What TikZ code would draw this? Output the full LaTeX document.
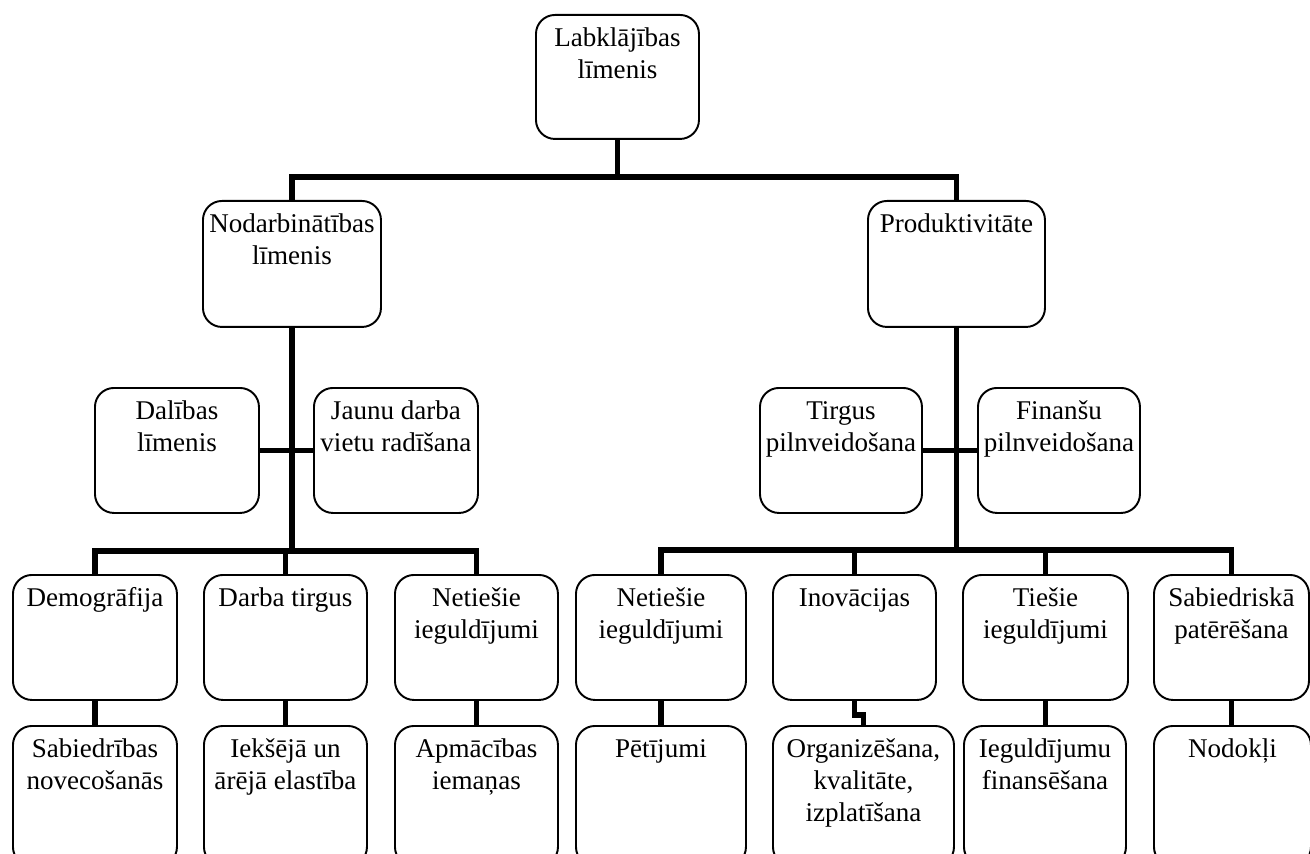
\documentclass[tikz,border=0pt]{standalone}
\usepackage{fontspec}
\setmainfont{Liberation Serif}
\newlength\pxu
\setlength\pxu{0.02cm}
\newcommand{\boxtext}[3]{\parbox[c][#2\pxu][t]{#1\pxu}{\centering\rule{0pt}{0.63cm}#3}}
\tikzset{
  box/.style={draw, fill=white, line width=1.1pt, rounded corners=0.38cm, inner sep=0pt,
    anchor=north west, font=\fontsize{15.4pt}{18.2pt}\selectfont},
  conn/.style={line width=3.2pt},
}
\begin{document}
\begin{tikzpicture}[x=0.02cm, y=-0.02cm]
\useasboundingbox (0,0) rectangle (1310,854);
\clip (0,0) rectangle (1310,854);
% augšējie līmeņi
\node[box] (lab) at (535,14) {\boxtext{163}{124}{Labklājības\\līmenis}};
\node[box] (nod) at (202,200) {\boxtext{178}{126}{Nodarbinātības\\līmenis}};
\node[box] (prod) at (867,200) {\boxtext{177}{126}{Produktivitāte}};
\node[box] (dal) at (94,387) {\boxtext{164}{125}{Dalības\\līmenis}};
\node[box] (jau) at (313,387) {\boxtext{164}{125}{Jaunu darba\\vietu radīšana}};
\node[box] (tir) at (759,387) {\boxtext{162}{125}{Tirgus\\pilnveidošana}};
\node[box] (fin) at (977,387) {\boxtext{162}{125}{Finanšu\\pilnveidošana}};
% faktori
\node[box] (dem) at (12,574) {\boxtext{164}{125}{Demogrāfija}};
\node[box] (dar) at (203,574) {\boxtext{163}{125}{Darba tirgus}};
\node[box] (nei) at (394,574) {\boxtext{163}{125}{Netiešie\\ieguldījumi}};
\node[box] (netr) at (575,574) {\boxtext{170}{125}{Netiešie\\ieguldījumi}};
\node[box] (ino) at (772,574) {\boxtext{163}{125}{Inovācijas}};
\node[box] (ties) at (962,574) {\boxtext{165}{125}{Tiešie\\ieguldījumi}};
\node[box] (sab) at (1153,574) {\boxtext{155}{125}{Sabiedriskā\\patērēšana}};
\node[box] (nov) at (12,725) {\boxtext{164}{140}{Sabiedrības\\novecošanās}};
\node[box] (iek) at (203,725) {\boxtext{163}{140}{Iekšējā un\\ārējā elastība}};
\node[box] (apm) at (394,725) {\boxtext{163}{140}{Apmācības\\iemaņas}};
\node[box] (pet) at (575,725) {\boxtext{170}{140}{Pētījumi}};
\node[box] (org) at (772,725) {\boxtext{181}{140}{Organizēšana,\\kvalitāte,\\izplatīšana}};
\node[box] (ieg) at (963,725) {\boxtext{162}{140}{Ieguldījumu\\finansēšana}};
\node[box] (nok) at (1153,725) {\boxtext{157}{140}{Nodokļi}};
% savienojumi
\coordinate (bus0) at (lab.south |- 0,177);
\coordinate (bus1) at (nod.south |- 0,551);
\coordinate (bus2) at (prod.south |- 0,550);
\draw[conn] (lab.south) -- (bus0);
\draw[conn] (nod.north) |- (bus0) -| (prod.north);
\draw[conn] (nod.south) -- (bus1);
\draw[conn] (dal.east) -- (jau.west);
\draw[conn] (dem.north) |- (bus1) -| (nei.north);
\draw[conn] (dar.north) -- (dar.north |- bus1);
\draw[conn] (prod.south) -- (bus2);
\draw[conn] (tir.east) -- (fin.west);
\draw[conn] (netr.north) |- (bus2) -| (sab.north);
\draw[conn] (ino.north) -- (ino.north |- bus2);
\draw[conn] (ties.north) -- (ties.north |- bus2);
\foreach \a/\b in {dem/nov, dar/iek, nei/apm, netr/pet, ties/ieg, sab/nok}
  \draw[conn] (\a.south) -- (\a.south |- \b.north);
\draw[conn] (ino.south) -- ++(0,14) -| (org.north);
\end{tikzpicture}
\end{document}
